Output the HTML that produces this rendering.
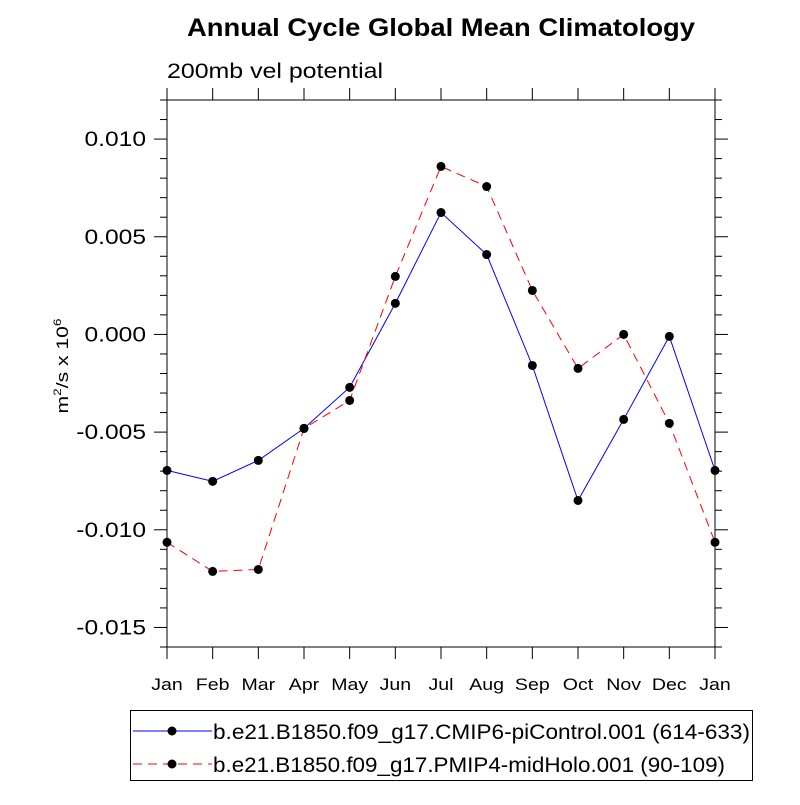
<!DOCTYPE html>
<html><head><meta charset="utf-8"><style>
body{margin:0;background:#fff}
svg{font-family:"Liberation Sans",sans-serif}
</style></head><body>
<svg id="c" width="800" height="800" xmlns="http://www.w3.org/2000/svg">
<text class="st" data-w="508" x="441" y="36" text-anchor="middle" font-size="25" font-weight="bold">Annual Cycle Global Mean Climatology</text>
<text class="st" data-w="216" x="167" y="78" font-size="21">200mb vel potential</text>
<text class="st" data-w="95" transform="translate(68,366) rotate(-90)" text-anchor="middle" font-size="17">m<tspan dy="-7" font-size="11">2</tspan><tspan dy="7">/s x 10</tspan><tspan dy="-7" font-size="11">6</tspan></text>
<g id="axes"></g>
<g id="series"></g>
<g>
<rect x="130.5" y="710.5" width="622" height="70" fill="none" stroke="#000" stroke-width="1"/>
<line x1="133" y1="731" x2="212" y2="731" stroke="#0000ff" stroke-width="1"/>
<circle cx="172" cy="731" r="4.5" fill="#000"/>
<text class="st" data-w="537" x="213" y="739" font-size="21">b.e21.B1850.f09_g17.CMIP6-piControl.001 (614-633)</text>
<line x1="133" y1="764" x2="212" y2="764" stroke="#ff0000" stroke-width="1" stroke-dasharray="9,6"/>
<circle cx="172" cy="764" r="4.5" fill="#000"/>
<text class="st" data-w="512" x="213" y="772" font-size="21">b.e21.B1850.f09_g17.PMIP4-midHolo.001 (90-109)</text>
</g>
</svg>
<script>
const months=["Jan","Feb","Mar","Apr","May","Jun","Jul","Aug","Sep","Oct","Nov","Dec","Jan"];
const piControl=[-6.96,-7.52,-6.45,-4.81,-2.71,1.59,6.24,4.09,-1.59,-8.50,-4.35,-0.10,-6.96];
const midHolo=[-10.64,-12.13,-12.03,-4.81,-3.38,2.97,8.60,7.57,2.25,-1.74,0.0,-4.55,-10.64];
const yTicks=[0.010,0.005,0.000,-0.005,-0.010,-0.015];
const yTickLabels=["0.010","0.005","0.000","-0.005","-0.010","-0.015"];
const X0=167,X1=715,Y0=100,Y1=647,YMIN=-0.016,YMAX=0.012;
const NS="http://www.w3.org/2000/svg";
function xs(i){return X0+i*(X1-X0)/(months.length-1);}
function ys(v){return Y1-(v-YMIN)/(YMAX-YMIN)*(Y1-Y0);}
function mk(t,a,p){const e=document.createElementNS(NS,t);for(const k in a)e.setAttribute(k,a[k]);p.appendChild(e);return e;}
function widen(t,f){const w=t.getComputedTextLength();t.setAttribute('textLength',(w*f).toFixed(1));t.setAttribute('lengthAdjust','spacingAndGlyphs');}
const ax=document.getElementById('axes');
const fr=mk('rect',{x:X0,y:Y0,width:X1-X0,height:Y1-Y0,fill:'none',stroke:'#000','stroke-width':1},ax);


for(let k=-16;k<=12;k++){
  const v=k/1000,y=ys(v),maj=(k%5===0);const L=maj?13:7;
  mk('line',{x1:X0-L,y1:y,x2:X0,y2:y,stroke:'#000','stroke-width':1},ax);
  mk('line',{x1:X1,y1:y,x2:X1+L,y2:y,stroke:'#000','stroke-width':1},ax);
}
yTicks.forEach((v,i)=>{
  const t=mk('text',{x:X0-21,y:ys(v)+7,'text-anchor':'end','font-size':21},ax);
  t.textContent=yTickLabels[i];
  
  
  widen(t,1.17);
});
months.forEach((m,i)=>{
  const x=xs(i);
  mk('line',{x1:x,y1:Y1,x2:x,y2:Y1+12,stroke:'#000','stroke-width':1},ax);
  mk('line',{x1:x,y1:Y0-12,x2:x,y2:Y0,stroke:'#000','stroke-width':1},ax);
  const t=mk('text',{x:x,y:Y1+43,'text-anchor':'middle','font-size':17},ax);
  t.textContent=m;
  
  
  widen(t,1.15);
});
document.querySelectorAll('.st').forEach(t=>{const w=+t.getAttribute('data-w');t.setAttribute('textLength',w);t.setAttribute('lengthAdjust','spacingAndGlyphs');});
const sg=document.getElementById('series');
function draw(vals,color,dash,name){
  const g=mk('g',{},sg);
  
  
  const pts=vals.map((v,i)=>xs(i)+','+ys(v/1000)).join(' ');
  const a={points:pts,fill:'none',stroke:color,'stroke-width':1};
  if(dash)a['stroke-dasharray']=dash;
  mk('polyline',a,g);
  vals.forEach((v,i)=>{
    const c=mk('circle',{cx:xs(i),cy:ys(v/1000),r:4.5,fill:'#000'},g);
    
    
  });
}
draw(piControl,'#0000ff',null,'series-picontrol');
draw(midHolo,'#ff0000','9,6','series-midholo');
</script>
</body></html>
